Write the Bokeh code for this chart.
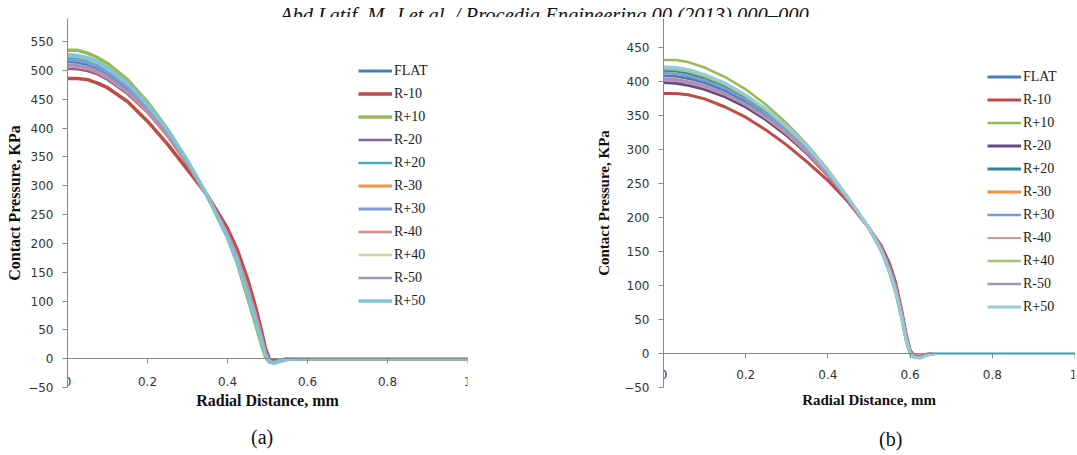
from bokeh.plotting import figure
from bokeh.models import Range1d, FixedTicker, NumeralTickFormatter, Legend, LegendItem, Div, Title
from bokeh.layouts import column, row
from bokeh.embed import file_html
from bokeh.resources import INLINE

HEADER = "Abd Latif, M. J et al. / Procedia Engineering 00 (2013) 000\u2013000"
SERIES = ["FLAT", "R-10", "R+10", "R-20", "R+20", "R-30", "R+30", "R-40", "R+40", "R-50", "R+50"]
X_TITLE = "Radial Distance, mm"
Y_TITLE = "Contact Pressure, KPa"
CAPTIONS = ["(a)", "(b)"]

XTICKS = [0, 0.2, 0.4, 0.6, 0.8, 1.0]
YTICKS_A = [-50, 0, 50, 100, 150, 200, 250, 300, 350, 400, 450, 500, 550]
YTICKS_B = [-50, 0, 50, 100, 150, 200, 250, 300, 350, 400, 450]

# ---- chart (a) ----
XA = [0, 0.025, 0.05, 0.075, 0.1, 0.15, 0.2, 0.25, 0.3, 0.35, 0.4, 0.425, 0.45, 0.47, 0.485, 0.495, 0.505, 0.515, 0.53, 0.55, 0.6, 1.0]
A_FLAT = [515, 514, 510, 503, 494, 468, 434, 392, 340, 282, 212, 170, 115, 70, 32, 8, -4, -7, -4, -1, 0, 0]
A_R_M10 = [486, 486, 484, 478, 470, 446, 412, 372, 328, 283, 226, 188, 138, 90, 48, 18, -1, -4, -3, 0, 0, 0]
A_R_P10 = [535, 535, 530, 522, 512, 484, 445, 398, 343, 281, 210, 164, 106, 60, 24, 3, -6, -7, -4, -1, 0, 0]
A_R_M20 = [503, 502, 499, 493, 484, 459, 427, 386, 336, 280, 214, 173, 120, 74, 36, 10, -4, -7, -4, -1, 0, 0]
A_R_P20 = [522, 521, 517, 510, 500, 474, 438, 395, 342, 282, 212, 168, 113, 68, 30, 6, -5, -7, -4, -1, 0, 0]
A_R_M30 = [508, 507, 504, 497, 488, 462, 429, 388, 338, 281, 214, 172, 118, 72, 34, 9, -4, -7, -4, -1, 0, 0]
A_R_P30 = [518, 517, 513, 506, 497, 471, 436, 394, 341, 282, 212, 169, 114, 69, 31, 7, -4, -7, -4, -1, 0, 0]
A_R_M40 = [507, 506, 503, 496, 487, 462, 429, 389, 339, 283, 218, 178, 126, 80, 40, 12, -3, -6, -3, -1, 0, 0]
A_R_P40 = [525, 524, 520, 513, 503, 477, 440, 396, 342, 282, 210, 166, 111, 66, 29, 5, -5, -7, -4, -1, 0, 0]
A_R_M50 = [510, 509, 506, 499, 490, 464, 431, 390, 339, 282, 215, 173, 119, 73, 35, 9, -4, -7, -4, -1, 0, 0]
A_R_P50 = [527, 526, 522, 515, 505, 478, 441, 397, 343, 283, 211, 167, 112, 67, 30, 6, -5, -8, -5, -1, 0, 0]

# ---- chart (b) ----
XB = [0, 0.03, 0.06, 0.1, 0.15, 0.2, 0.25, 0.3, 0.35, 0.4, 0.45, 0.5, 0.53, 0.55, 0.565, 0.58, 0.59, 0.6, 0.61, 0.625, 0.64, 0.66, 1.0]
B_FLAT = [408, 407, 404, 398, 386, 370, 350, 326, 298, 264, 226, 184, 152, 122, 95, 55, 25, 3, -5, -6, -2, 0, 0]
B_R_M10 = [382, 382, 380, 374, 362, 347, 328, 306, 281, 254, 222, 184, 158, 132, 104, 62, 30, 5, -3, -4, -1, 0, 0]
B_R_P10 = [431, 431, 428, 420, 406, 388, 365, 338, 306, 270, 229, 184, 150, 118, 88, 48, 18, -2, -6, -6, -2, 0, 0]
B_R_M20 = [398, 397, 394, 388, 377, 362, 343, 320, 293, 261, 224, 184, 153, 124, 97, 57, 26, 3, -5, -6, -2, 0, 0]
B_R_P20 = [416, 415, 412, 405, 393, 376, 355, 330, 301, 266, 227, 184, 151, 120, 92, 52, 22, 1, -6, -6, -2, 0, 0]
B_R_M30 = [403, 402, 399, 393, 381, 366, 346, 323, 295, 262, 225, 184, 153, 123, 96, 56, 26, 3, -5, -6, -2, 0, 0]
B_R_P30 = [412, 411, 408, 401, 389, 373, 352, 328, 300, 265, 226, 184, 152, 121, 93, 53, 23, 2, -5, -6, -2, 0, 0]
B_R_M40 = [401, 400, 397, 391, 380, 365, 346, 323, 296, 263, 226, 186, 156, 127, 100, 60, 28, 4, -4, -5, -2, 0, 0]
B_R_P40 = [418, 417, 414, 407, 395, 378, 357, 332, 303, 268, 228, 184, 151, 119, 90, 50, 20, 0, -6, -6, -2, 0, 0]
B_R_M50 = [403, 402, 399, 393, 382, 366, 347, 324, 296, 263, 225, 185, 154, 125, 98, 58, 27, 3, -5, -6, -2, 0, 0]
B_R_P50 = [421, 420, 417, 410, 397, 380, 359, 334, 304, 268, 228, 184, 151, 120, 91, 51, 21, 0, -6, -7, -3, 0, 0]

A_VALUES = [A_FLAT, A_R_M10, A_R_P10, A_R_M20, A_R_P20, A_R_M30, A_R_P30, A_R_M40, A_R_P40, A_R_M50, A_R_P50]
B_VALUES = [B_FLAT, B_R_M10, B_R_P10, B_R_M20, B_R_P20, B_R_M30, B_R_P30, B_R_M40, B_R_P40, B_R_M50, B_R_P50]

A_COLORS = ["#4A7EBB", "#BE4B48", "#98B954", "#8066A6", "#46AAC5", "#F69240",
            "#7E9BD4", "#E08A88", "#C9DBA3", "#A393C4", "#7FC3D9"]
A_WIDTHS = [3, 3.5, 3.5, 2.5, 2.5, 3, 3, 2.5, 2.5, 2.5, 3.5]
B_COLORS = ["#4A7EBB", "#BE4B48", "#98B954", "#5F4A8B", "#31849B", "#F69240",
            "#7E9BD4", "#D99694", "#A9C66F", "#A393C4", "#93CDDD"]
B_WIDTHS = [3, 3, 2.5, 3, 3, 3, 2.5, 2, 2.5, 2.5, 3]

SERIF = "Liberation Serif"
SANS = "DejaVu Sans"


def make_chart(xs, values, colors, widths, y_end, yticks, width, height,
               mb_left, mb_right, mb_top, mb_bottom, legend_loc, title_size,
               xtick_standoff, xtitle_standoff, xtitle_offset, ytitle_standoff):
    p = figure(width=width, height=height, x_range=Range1d(0, 1), y_range=Range1d(-50, y_end),
               output_backend="svg", toolbar_location=None,
               min_border_left=mb_left, min_border_right=mb_right,
               min_border_top=mb_top, min_border_bottom=mb_bottom)
    p.title.visible = False
    p.outline_line_color = None
    p.xgrid.visible = False
    p.ygrid.visible = False
    p.background_fill_color = "white"
    p.border_fill_color = "white"

    items = []
    for name, ys, c, w in zip(SERIES, values, colors, widths):
        r = p.line(xs, ys, line_color=c, line_width=w)
        items.append(LegendItem(label=name, renderers=[r]))

    leg = Legend(items=items, location=legend_loc, glyph_width=34, glyph_height=21,
                 label_height=21, spacing=2, padding=0, margin=0, label_standoff=2,
                 border_line_color=None, background_fill_alpha=0,
                 label_text_font=SERIF, label_text_font_size="14px", label_text_color="#222222")
    p.add_layout(leg)

    xa = p.xaxis[0]
    xa.fixed_location = 0
    xa.ticker = FixedTicker(ticks=XTICKS)
    xa.formatter = NumeralTickFormatter(format="0.[0]")
    xa.axis_line_color = "#8a8a8a"
    xa.major_tick_line_color = "#8a8a8a"
    xa.major_tick_out = 5
    xa.major_tick_in = 0
    xa.minor_tick_line_color = None
    xa.major_label_text_font = SANS
    xa.major_label_text_font_size = "12px"
    xa.major_label_text_color = "#333333"
    xa.major_label_standoff = xtick_standoff

    xt = Title(text=X_TITLE, align="center", offset=xtitle_offset, standoff=xtitle_standoff,
               text_font=SERIF, text_font_style="bold", text_font_size=title_size,
               text_color="#111111")
    p.add_layout(xt, "below")

    ya = p.yaxis[0]
    ya.ticker = FixedTicker(ticks=yticks)
    ya.axis_line_color = "#8a8a8a"
    ya.major_tick_line_color = "#8a8a8a"
    ya.major_tick_out = 5
    ya.major_tick_in = 0
    ya.minor_tick_line_color = None
    ya.major_label_text_font = SANS
    ya.major_label_text_font_size = "12px"
    ya.major_label_text_color = "#333333"
    ya.major_label_standoff = 9
    ya.axis_label = Y_TITLE
    ya.axis_label_text_font = SERIF
    ya.axis_label_text_font_style = "bold"
    ya.axis_label_text_font_size = title_size
    ya.axis_label_text_color = "#111111"
    ya.axis_label_standoff = ytitle_standoff
    return p


p1 = make_chart(XA, A_VALUES, A_COLORS, A_WIDTHS, 590, YTICKS_A, 540, 403,
                67, 73, 0, 31, (291, 76), "16px", 13, 4, 16, 2)
p2 = make_chart(XB, B_VALUES, B_COLORS, B_WIDTHS, 492, YTICKS_B, 537, 403,
                123, 3, 1, 33, (324, 70), "15px", 12, 5, 22, 9)

header = Div(
    text=('<div style="position:absolute;left:280px;top:3px;white-space:nowrap;'
          'font-family:\'Liberation Serif\';font-style:italic;font-size:20.5px;line-height:24px;color:#111;">'
          + HEADER + '</div>'),
    width=1077, height=17, margin=0, styles={"overflow": "hidden", "position": "relative"})

captions = Div(
    text=('<div style="position:absolute;left:251px;top:7px;font-family:\'Liberation Serif\';'
          'font-size:20px;line-height:20px;color:#111;">' + CAPTIONS[0] + '</div>'
          '<div style="position:absolute;left:879px;top:9px;font-family:\'Liberation Serif\';'
          'font-size:20px;line-height:20px;color:#111;">' + CAPTIONS[1] + '</div>'),
    width=1077, height=35, margin=0, styles={"position": "relative"})

layout = column(header, row(p1, p2), captions)

open("out.html", "w").write(file_html(layout, INLINE))
